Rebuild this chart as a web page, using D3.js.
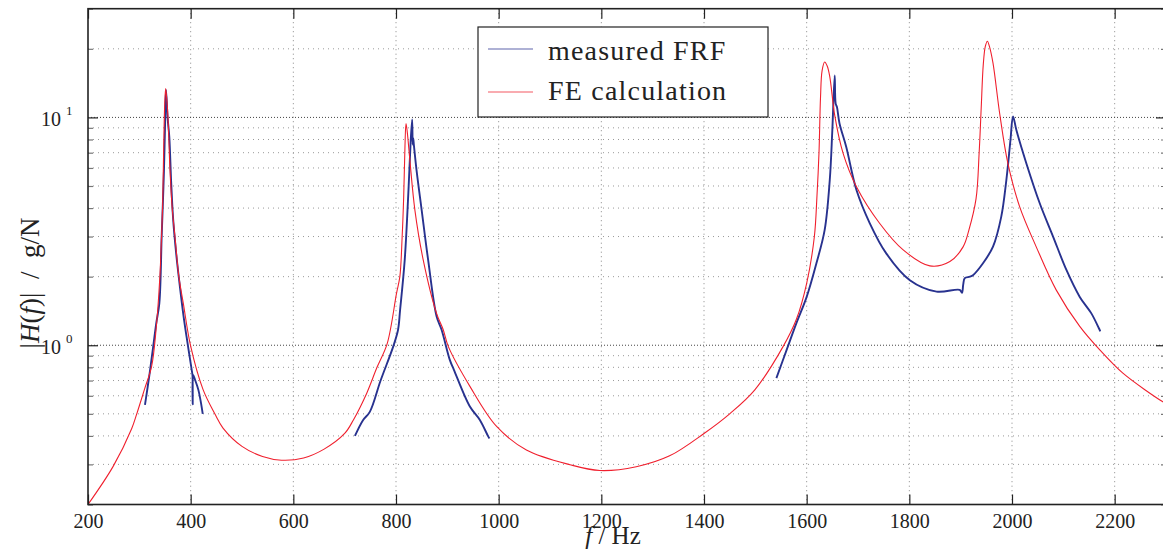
<!DOCTYPE html>
<html>
<head>
<meta charset="utf-8">
<script src="https://cdn.jsdelivr.net/npm/d3@7"></script>
<style>
  body { margin: 0; background: white; }
  text { font-family: "Liberation Serif", serif; fill: #222; }
</style>
</head>
<body>
<div id="container"></div>
<script>
let w = 1163;
let h = 551;

// tick values
let xTicks = [200, 400, 600, 800, 1000, 1200, 1400, 1600, 1800, 2000, 2200];
let yMinor = [0.2, 0.3, 0.4, 0.5, 0.6, 0.7, 0.8, 0.9, 2, 3, 4, 5, 6, 7, 8, 9, 20, 30];
let yMajor = [1, 10];

// FE calculation, [f in Hz, |H| in g/N]
let feCalc = [
  [200, 0.200], [249, 0.294], [285, 0.43], [295, 0.50], [310, 0.64], [324, 0.81], [333, 1.2],
  [340, 2.0], [343, 2.9], [345.5, 4.2], [347.5, 7.5], [349.5, 11.5], [351.3, 13.4],
  [353.5, 12.0], [356, 9.8], [359.7, 5.9], [364, 4.0], [369.4, 3.0], [377, 2.0],
  [385.6, 1.53], [400, 0.99], [424, 0.64], [447, 0.50], [463, 0.433], [500, 0.36],
  [540, 0.325], [577, 0.313], [620, 0.32], [660, 0.35], [700, 0.41], [717, 0.47],
  [743, 0.616], [763, 0.8], [783, 1.02], [801, 1.69], [807.5, 2.0], [812, 3.0],
  [815, 4.5], [817.5, 7.5], [819.5, 9.4], [822, 8.6], [827, 6.5], [836.8, 3.92],
  [853, 2.37], [879, 1.38], [892, 1.17], [902, 0.986], [944, 0.66], [996, 0.44],
  [1054, 0.347], [1139, 0.299], [1197, 0.282], [1268, 0.293], [1333, 0.327],
  [1400, 0.41], [1450, 0.50], [1499, 0.637], [1554, 0.986], [1580, 1.3], [1600, 1.87],
  [1615, 3.0], [1620, 4.49], [1624, 7.0], [1627, 12.3], [1630, 16.0], [1635, 17.5],
  [1640, 16.8], [1645, 15.1], [1655, 10.1], [1671, 6.95], [1697, 4.96], [1742, 3.43],
  [1788, 2.62], [1840, 2.23], [1879, 2.33], [1905, 2.71], [1916, 3.2], [1930, 4.4],
  [1936, 7.0], [1940, 11.0], [1944, 17.0], [1948, 20.5], [1952, 21.6], [1956, 20.5],
  [1963, 17.3], [1976, 10.4], [1992, 6.28], [2015, 4.05], [2047, 2.71], [2086, 1.75],
  [2132, 1.21], [2171, 0.954], [2216, 0.754], [2293, 0.566], [2300, 0.555]
];

// measured FRF, three frequency bands
let frfA = [
  [311, 0.547], [320, 0.75], [327, 0.986], [333, 1.25], [339, 1.53], [343.5, 3.0],
  [346, 4.3], [348, 5.87], [350, 9.0], [352, 13.2], [355, 10.0], [358.4, 8.2],
  [362, 5.2], [366, 3.54], [372, 2.5], [379, 1.81], [386, 1.35], [392, 1.09],
  [402, 0.78], [403.5, 0.74], [404, 0.55], [404.6, 0.74], [409, 0.70], [415, 0.637],
  [420, 0.56], [423.5, 0.50]
];
let frfB = [
  [720, 0.40], [736, 0.47], [749, 0.51], [770, 0.70], [794.5, 0.986], [804, 1.17],
  [808, 1.43], [817, 2.37], [824, 4.64], [828.4, 7.7], [831.5, 9.8], [832.5, 7.6],
  [833.5, 8.1], [835, 7.5], [840, 5.87], [850, 3.92], [862.6, 2.37], [879, 1.34],
  [888.8, 1.17], [905, 0.86], [912.8, 0.78], [943.9, 0.538], [963.4, 0.47], [979.6, 0.398],
  [982, 0.39]
];
let frfC = [
  [1541, 0.717], [1561, 0.954], [1580, 1.25], [1600, 1.63], [1619, 2.29], [1635, 3.2],
  [1645, 5.31], [1650, 8.8], [1654.6, 15.3], [1656.5, 11.5], [1659, 11.1], [1664, 9.4],
  [1677, 7.43], [1697, 4.8], [1723, 3.43], [1755, 2.53], [1801, 1.93], [1853, 1.72],
  [1898, 1.75], [1902.6, 1.70], [1905, 1.85], [1908, 1.97], [1918, 2.0], [1924, 2.03],
  [1943.5, 2.29], [1963, 2.71], [1979, 3.66], [1989, 5.31], [1997, 7.95], [2002, 10.1],
  [2008.5, 8.8], [2028, 6.28], [2054, 4.2], [2080, 3.0], [2106, 2.14], [2132, 1.63],
  [2154.6, 1.38], [2169, 1.19], [2172, 1.15]
];

let pl = 88, pr = 1166, pt = 8.7, pb = 504.5;

let x = d3.scaleLinear().domain([200, 2300]).range([pl, pr]);
let y = d3.scaleLog().domain([0.2, 30]).range([pb, pt]);

let viz = d3.select("#container")
  .append("svg")
    .attr("width", w)
    .attr("height", h)
    .style("background-color", "white");

// grid
let grid = viz.append("g");
grid.selectAll(".vgrid")
  .data(xTicks.slice(1))
  .enter()
  .append("line")
    .attr("x1", d => x(d)).attr("x2", d => x(d))
    .attr("y1", pt).attr("y2", pb)
    .attr("stroke", "#888").attr("stroke-width", 1)
    .attr("stroke-dasharray", "1,3.5");
grid.selectAll(".hminor")
  .data(yMinor.filter(d => d < 30))
  .enter()
  .append("line")
    .attr("x1", pl).attr("x2", pr)
    .attr("y1", d => y(d)).attr("y2", d => y(d))
    .attr("stroke", "#999").attr("stroke-width", 1)
    .attr("stroke-dasharray", "1,4");
grid.selectAll(".hmajor")
  .data(yMajor)
  .enter()
  .append("line")
    .attr("x1", pl).attr("x2", pr)
    .attr("y1", d => y(d)).attr("y2", d => y(d))
    .attr("stroke", "#444").attr("stroke-width", 1)
    .attr("stroke-dasharray", "1,2");

// curves
viz.append("clipPath").attr("id", "plotclip")
  .append("rect")
    .attr("x", pl).attr("y", pt)
    .attr("width", pr - pl).attr("height", pb - pt);

let line = d3.line()
  .x(d => x(d[0]))
  .y(d => y(d[1]))
  .curve(d3.curveCatmullRom.alpha(0.5));

let curves = viz.append("g").attr("clip-path", "url(#plotclip)");
[frfA, frfB, frfC].forEach(seg => {
  curves.append("path")
    .attr("d", line(seg))
    .attr("fill", "none")
    .attr("stroke", "#28328f")
    .attr("stroke-width", 1.9)
    .attr("stroke-linejoin", "round");
});
curves.append("path")
  .attr("d", line(feCalc))
  .attr("fill", "none")
  .attr("stroke", "#f0202e")
  .attr("stroke-width", 1.1);

// axes with inward ticks
let xAxis = viz.append("g")
  .attr("transform", "translate(0," + pb + ")")
  .call(d3.axisBottom(x).tickValues(xTicks).tickSize(-10).tickPadding(9).tickFormat(d3.format("d")));
let xTop = viz.append("g")
  .attr("transform", "translate(0," + pt + ")")
  .call(d3.axisTop(x).tickValues(xTicks).tickSize(-10).tickFormat(""));
let yMin = viz.append("g")
  .attr("transform", "translate(" + pl + ",0)")
  .call(d3.axisLeft(y).tickValues(yMinor).tickSize(-5).tickFormat(""));
let yMaj = viz.append("g")
  .attr("transform", "translate(" + pl + ",0)")
  .call(d3.axisLeft(y).tickValues(yMajor).tickSize(-10).tickFormat(""));
let yMinR = viz.append("g")
  .attr("transform", "translate(" + pr + ",0)")
  .call(d3.axisRight(y).tickValues(yMinor).tickSize(-5).tickFormat(""));
let yMajR = viz.append("g")
  .attr("transform", "translate(" + pr + ",0)")
  .call(d3.axisRight(y).tickValues(yMajor).tickSize(-10).tickFormat(""));

[xAxis, xTop, yMin, yMaj, yMinR, yMajR].forEach(g => {
  g.select(".domain").remove();
  g.selectAll(".tick line").attr("stroke", "#222").attr("stroke-width", 1.2);
});
yMin.selectAll(".tick line").attr("stroke", "#777");
yMinR.selectAll(".tick line").attr("stroke", "#777");
xAxis.selectAll(".tick text")
  .style("font-family", "Liberation Serif, serif")
  .style("font-size", "20px")
  .attr("fill", "#222");

// frame
viz.append("rect")
  .attr("x", pl).attr("y", pt)
  .attr("width", pr - pl).attr("height", pb - pt)
  .attr("fill", "none").attr("stroke", "#222").attr("stroke-width", 1.6);

// y tick labels 10^n
yMajor.forEach(v => {
  let t = viz.append("text")
    .attr("x", 41).attr("y", y(v) + 8.5)
    .style("font-size", "20px");
  t.append("tspan").text("10");
  t.append("tspan").attr("dx", 5).attr("dy", -11).style("font-size", "13px").text(Math.round(Math.log10(v)));
});

// axis labels
viz.append("text")
  .attr("x", 613).attr("y", 544)
  .attr("text-anchor", "middle")
  .style("font-size", "25px")
  .html('<tspan font-style="italic">f</tspan> / Hz');

viz.append("text")
  .attr("transform", "translate(39,283) rotate(-90)")
  .attr("text-anchor", "middle")
  .style("font-size", "27px")
  .html('|<tspan font-style="italic">H</tspan>(<tspan font-style="italic">f</tspan>)|  /  g/N')
  .attr("xml:space", "preserve")
  .style("white-space", "pre");

// legend
let legend = viz.append("g");
legend.append("rect")
  .attr("x", 478).attr("y", 27).attr("width", 290).attr("height", 90)
  .attr("fill", "white").attr("stroke", "#222").attr("stroke-width", 1.2);
let legendItems = [
  { label: "measured FRF", color: "#28328f", yy: 49, base: 60 },
  { label: "FE calculation", color: "#f0202e", yy: 92, base: 100 }
];
legendItems.forEach(d => {
  legend.append("line")
    .attr("x1", 488).attr("x2", 533)
    .attr("y1", d.yy).attr("y2", d.yy)
    .attr("stroke", d.color).attr("stroke-width", 1.1)
    .attr("opacity", 0.75);
  legend.append("text")
    .attr("x", 548).attr("y", d.base)
    .style("font-size", "28px")
    .style("letter-spacing", "1.2px")
    .text(d.label);
});
</script>
</body>
</html>
